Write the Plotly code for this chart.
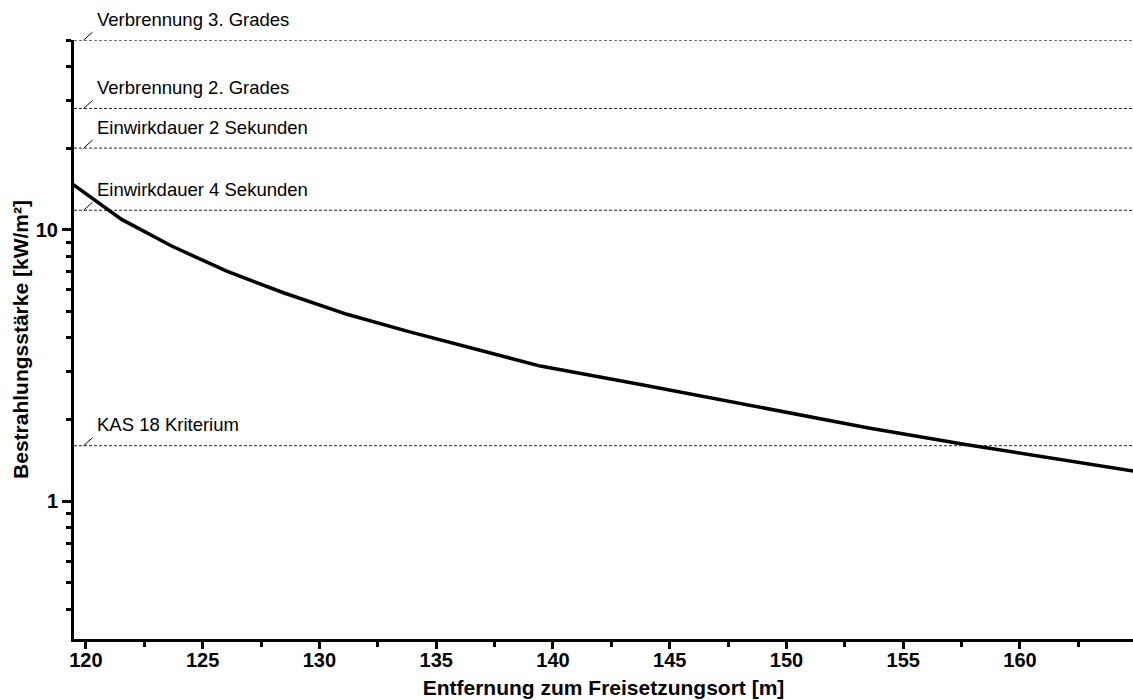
import numpy as np
import plotly.graph_objects as go

# Data
distance_m = [119.4, 121.53, 123.67, 126.03, 128.46, 131.18, 133.75, 139.46, 143.75,
              150.6, 153.52, 157.6, 160.63, 164.88]
irradiance_kw = [14.8, 10.92, 8.71, 7.04, 5.86, 4.88, 4.23, 3.145, 2.69,
                 2.07, 1.86, 1.62, 1.47, 1.29]

threshold_labels = ["Verbrennung 3. Grades", "Verbrennung 2. Grades",
                    "Einwirkdauer 2 Sekunden", "Einwirkdauer 4 Sekunden",
                    "KAS 18 Kriterium"]
threshold_values = [50, 28, 20, 11.8, 1.6]

x_ticks = [120, 125, 130, 135, 140, 145, 150, 155, 160]
y_ticks = [1, 10]
y_tick_text = ["1", "10"]
y_minor = [0.4, 0.5, 0.6, 0.7, 0.8, 0.9, 2, 3, 4, 5, 6, 7, 8, 9, 20, 30, 40, 50]

X_RANGE = [119.49, 164.84]
Y_RANGE = [1.6995 - 2.2079, 1.6995]

FONT = "Liberation Sans, Arial, sans-serif"

fig = go.Figure()

for lab, val in zip(threshold_labels, threshold_values):
    fig.add_trace(go.Scatter(
        x=X_RANGE, y=[val, val], mode="lines",
        line=dict(color="#222222", width=1, dash="3px,2px"),
        hoverinfo="skip", showlegend=False, cliponaxis=False))

fig.add_trace(go.Scatter(
    x=distance_m, y=irradiance_kw, mode="lines",
    line=dict(color="black", width=3.5),
    showlegend=False))

ymin, ymax = Y_RANGE
for lab, val in zip(threshold_labels, threshold_values):
    frac = (np.log10(val) - ymin) / (ymax - ymin)
    fig.add_annotation(
        x=120.4, xref="x", y=frac, yref="paper",
        text=lab, showarrow=False, xanchor="left", yanchor="middle",
        yshift=21, font=dict(family=FONT, size=18.5, color="black"))
    fig.add_shape(
        type="line", xref="x", yref="paper",
        xsizemode="pixel", ysizemode="pixel",
        xanchor=119.9, yanchor=frac,
        x0=0, x1=9, y0=0, y1=8,
        line=dict(color="black", width=1))

fig.update_layout(
    width=1133, height=700,
    margin=dict(l=74, r=0, t=40, b=61),
    paper_bgcolor="white", plot_bgcolor="white",
    font=dict(family=FONT, color="black"),
)

fig.update_xaxes(
    range=X_RANGE, showgrid=False, zeroline=False,
    showline=True, linecolor="black", linewidth=3,
    tickmode="array", tickvals=x_ticks,
    ticks="outside", ticklen=7, tickwidth=3, tickcolor="black",
    ticklabelstandoff=-6,
    minor=dict(ticks="outside", dtick=2.5, tick0=120, ticklen=5,
               tickwidth=3, tickcolor="black", showgrid=False),
    tickfont=dict(family=FONT, size=20, weight="bold", color="black"),
    title=dict(text="Entfernung zum Freisetzungsort [m]", standoff=11,
               font=dict(family=FONT, size=21, weight="bold", color="black")),
)

fig.update_yaxes(
    type="log", range=Y_RANGE, showgrid=False, zeroline=False,
    showline=True, linecolor="black", linewidth=3,
    tickmode="array", tickvals=y_ticks, ticktext=y_tick_text,
    ticks="outside", ticklen=9, tickwidth=3, tickcolor="black",
    minor=dict(ticks="outside", tickmode="array", tickvals=y_minor, ticklen=5,
               tickwidth=3, tickcolor="black", showgrid=False),
    tickfont=dict(family=FONT, size=20, weight="bold", color="black"),
    title=dict(text="Bestrahlungsstärke [kW/m²]", standoff=2,
               font=dict(family=FONT, size=21, weight="bold", color="black")),
)

fig.write_html("out.html")
